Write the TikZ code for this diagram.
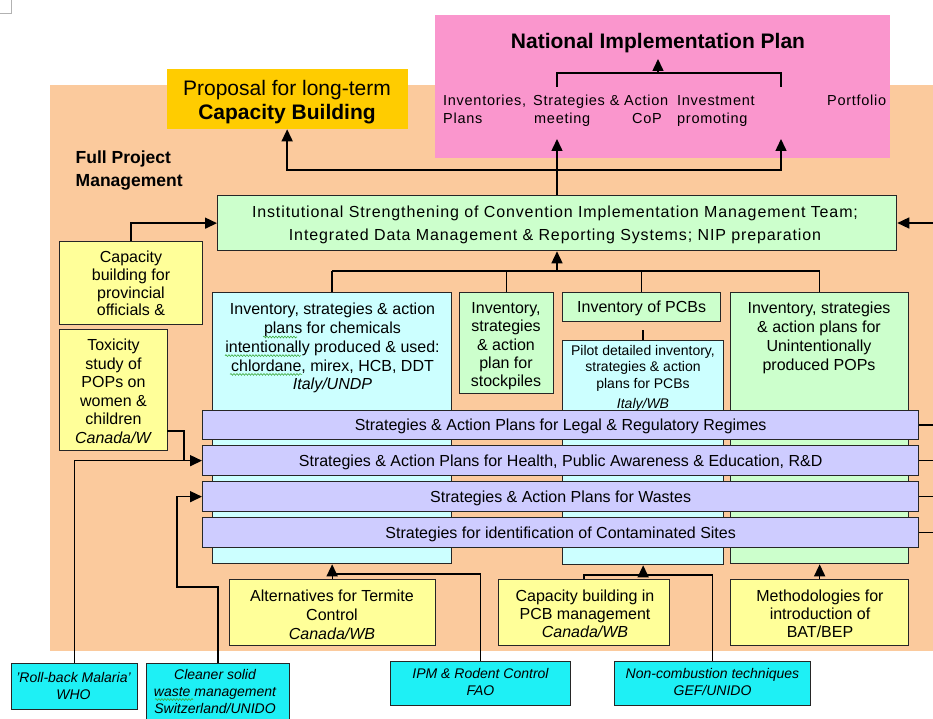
\documentclass[tikz,border=0pt]{standalone}
\usepackage{fontspec}
\setmainfont{Liberation Sans}
\newfontfamily\pinkf[LetterSpace=5]{Liberation Sans}
\newfontfamily\instf[LetterSpace=5.5]{Liberation Sans}
\usetikzlibrary{arrows.meta,decorations.pathmorphing,calc}
\definecolor{peach}{RGB}{251,202,157}
\definecolor{pinkbox}{RGB}{250,150,205}
\definecolor{gold}{RGB}{255,204,0}
\definecolor{ltgreen}{RGB}{204,255,204}
\definecolor{ltcyan}{RGB}{204,255,255}
\definecolor{ltyellow}{RGB}{255,255,153}
\definecolor{lav}{RGB}{206,204,255}
\definecolor{cyanbox}{RGB}{30,240,245}
\definecolor{squig}{RGB}{60,170,60}
\newcommand\fsz[2]{\fontsize{#1}{#2}\selectfont}
\begin{document}
\begin{tikzpicture}[x=1pt,y=-1pt,
 box/.style={draw=black!85, line width=1.3pt, inner sep=0pt, anchor=north west},
 bar/.style={box, fill=lav, minimum width=716, text height=11.5pt, text depth=0pt, font={\fsz{16}{18}}},
 txt/.style={inner sep=0pt, align=center, anchor=north, font={\fsz{16}{18.6}}},
 itxt/.style={inner sep=0pt, align=center, anchor=north, font={\fsz{14}{17.3}\itshape}},
 ptxt/.style={inner sep=0pt, font={\pinkf\fsz{14.5}{18}}},
 conn/.style={line width=1.5pt, draw=black},
 arr/.style={conn, -{Triangle[length=12pt,width=11pt]}},
 wavy/.style={draw=squig, line width=0.6pt, decorate, decoration={snake, amplitude=0.9pt, segment length=3pt}}
]
\useasboundingbox (0,0) rectangle (933,719);
\clip (0,0) rectangle (933,719);
\fill[white] (0,0) rectangle (933,719);
\draw[gray!60, line width=0.8pt] (0,13) -- (11,13) -- (11,0);

% background region
\fill[peach] (50,85) rectangle (933,651);

% National Implementation Plan
\node[box, draw=none, fill=pinkbox, minimum width=455, minimum height=143] (nip) at (434,14) {};
\node[inner sep=0pt, anchor=north, font={\fsz{21}{24}\bfseries}] (nipT) at (658,33.3) {National Implementation Plan};
\node[ptxt, anchor=base west] (p1) at (443,106) {Inventories,};
\node[ptxt, anchor=base west] (p2) at (443,124) {Plans};
\node[ptxt, anchor=base west] (p3) at (533,106) {Strategies \& Action};
\node[ptxt, anchor=base west] (p4) at (534,124) {meeting};
\node[ptxt, anchor=base east] (p5) at (662,124) {CoP};
\node[ptxt, anchor=base west] (p6) at (677,106) {Investment};
\node[ptxt, anchor=base west] (p7) at (677,124) {promoting};
\node[ptxt, anchor=base west] (p8) at (827,106) {Portfolio};
\coordinate (bl) at (557,87);
\coordinate (br) at (781,87);
\coordinate (bt) at (669,73);
\draw[conn] (bl) |- (bt) -| (br);
\draw[arr] (nipT.south |- bt) -- ++(0,-14);

% Proposal
\node[box, draw=none, fill=gold, minimum width=241, minimum height=60] (prop) at (166,68) {};
\node[txt, font={\fsz{21}{24}}] (propT) at (287,80) {Proposal for long-term\\\textbf{Capacity Building}};

\node[inner sep=0pt, anchor=north west, align=left, font={\fsz{17.5}{22.6}\bfseries}] (fpm) at (75.5,150.7) {Full Project\\Management};

% Institutional strengthening
\node[box, fill=ltgreen, minimum width=679, minimum height=55] (inst) at (217,195) {};
\node[txt, font={\instf\fsz{16}{23.4}}] (instT) at (555,205.7) {Institutional Strengthening of Convention Implementation Management Team;\\Integrated Data Management \& Reporting Systems; NIP preparation};

% left yellow boxes
\node[box, fill=ltyellow, minimum width=143, minimum height=83] (capb) at (59,241) {};
\node[txt, font={\fsz{16}{17.8}}] (capbT) at (131,250.7) {Capacity\\building for\\provincial\\officials \&};
\node[box, fill=ltyellow, minimum width=108, minimum height=121] (tox) at (59,329) {};
\node[txt, font={\fsz{16}{18.5}}] (toxT) at (113.5,339) {Toxicity\\study of\\POPs on\\women \&\\children\\\textit{Canada/W}};

% columns
\node[box, fill=ltcyan, minimum width=239, minimum height=271] (chem) at (212,292) {};
\node[txt, font={\fsz{16}{18.8}}] (chemT) at (332.5,303) {Inventory, strategies \& action\\plans for chemicals\\intentionally produced \& used:\\chlordane, mirex, HCB, DDT\\\textit{Italy/UNDP}};
\node[box, fill=ltgreen, minimum width=94, minimum height=101] (stock) at (459,292) {};
\node[txt, font={\fsz{16}{18.4}}] (stockT) at (506,302) {Inventory,\\strategies\\\& action\\plan for\\stockpiles};
\node[box, fill=ltgreen, minimum width=158, minimum height=29, text height=11.5pt, text depth=0pt, font={\fsz{16}{18}}] (invpcb) at (562,292) {Inventory of PCBs};
\node[box, fill=ltcyan, minimum width=161, minimum height=224] (pilot) at (562,340) {};
\node[txt, font={\fsz{14}{16.5}}] (pilotT) at (643,345) {Pilot detailed inventory,\\strategies \& action\\plans for PCBs\\[3.5pt]\textit{Italy/WB}};
\node[box, fill=ltgreen, minimum width=178, minimum height=271] (unint) at (730,292) {};
\node[txt, font={\fsz{16}{18.9}}] (unintT) at (819,302) {Inventory, strategies\\\& action plans for\\Unintentionally\\produced POPs};

% spell-check marks
\draw[wavy] (263,337) -- (297,337);
\draw[wavy] (225,355.6) -- (301,355.6);
\draw[wavy] (230,374.4) -- (302,374.4);

% strategy bars
\node[bar, minimum height=29] (legal) at (202,410) {Strategies \& Action Plans for Legal \& Regulatory Regimes};
\node[bar, minimum height=30] (health) at (202,445) {Strategies \& Action Plans for Health, Public Awareness \& Education, R\&D};
\node[bar, minimum height=30] (wastes) at (202,481) {Strategies \& Action Plans for Wastes};
\node[bar, minimum height=30] (sites) at (202,517) {Strategies for identification of Contaminated Sites};

% bottom yellow boxes
\node[box, fill=ltyellow, minimum width=206, minimum height=66] (term) at (229,579) {};
\node[txt, font={\fsz{16}{19}}] (termT) at (332,589.3) {Alternatives for Termite\\Control\\\textit{Canada/WB}};
\node[box, fill=ltyellow, minimum width=171, minimum height=66] (pcbcap) at (498,579) {};
\node[txt, font={\fsz{16}{18.4}}] (pcbcapT) at (585,589.3) {Capacity building in\\PCB management\\\textit{Canada/WB}};
\node[box, fill=ltyellow, minimum width=178, minimum height=66] (meth) at (730,579) {};
\node[txt, font={\fsz{16}{18.4}}] (methT) at (820,589.3) {Methodologies for\\introduction of\\BAT/BEP};

% cyan partner boxes
\node[box, fill=cyanbox, minimum width=126, minimum height=46] (mal) at (11,663) {};
\node[itxt] (malT) at (73.5,671.7) {'Roll-back Malaria'\\WHO};
\node[box, fill=cyanbox, minimum width=143, minimum height=70] (clean) at (146,663) {};
\node[itxt, font={\fsz{14}{17}\itshape}] (cleanT) at (215,669) {Cleaner solid\\waste management\\Switzerland/UNIDO};
\draw[wavy] (155,699.5) -- (193,699.5);
\node[box, fill=cyanbox, minimum width=180, minimum height=44] (ipm) at (390,661) {};
\node[itxt, font={\fsz{14}{16.7}\itshape}] (ipmT) at (480.5,668.3) {IPM \& Rodent Control\\FAO};
\node[box, fill=cyanbox, minimum width=196, minimum height=44] (noncomb) at (614,661) {};
\node[itxt, font={\fsz{14}{16.7}\itshape}] (noncombT) at (712.5,668.3) {Non-combustion techniques\\GEF/UNIDO};

% connectors: top
\coordinate (j1) at (557,170);
\draw[conn] (j1 |- inst.north) -- (j1);
\draw[arr] (j1) -| (prop.south);
\draw[arr] (j1) -- (557,139);
\draw[arr] (j1) -| (781,139);
\coordinate (rin) at (933,223);
\draw[arr] (rin) -- (rin -| inst.east);
\draw[arr] (capb.north) |- (inst.west);

% column bracket
\coordinate (cb) at (557,271);
\draw[conn] (chem.north |- cb) -- (unint.north |- cb);
\draw[conn] (chem.north) -- (chem.north |- cb);
\draw[conn] (stock.north) -- (stock.north |- cb);
\draw[conn] (invpcb.north) -- (invpcb.north |- cb);
\draw[conn] (unint.north) -- (unint.north |- cb);
\draw[arr] (cb) -- (cb |- inst.south);
\draw[conn] (pilot.north) -- ++(0,-10);

% left inputs
\coordinate (toxo) at (167,431);
\draw[conn] (toxo) -| ($(health.west)+(-18,0)$);
\draw[arr] (mal.north) |- (health.west);
\coordinate (c1) at (177,587);
\draw[arr] (clean.north) |- (c1) |- (wastes.west);

% bottom inputs
\coordinate (ij) at (480,574);
\draw[arr] (ipm.north) |- (chem.south |- ij) -- (chem.south);
\draw[conn] (term.north) -- (term.north |- ij);
\coordinate (nj) at (713,575);
\draw[arr] (noncomb.north) |- (pilot.south |- nj) -- (pilot.south);
\draw[conn] (pcbcap.north) |- (pilot.south |- nj);
\draw[arr] (meth.north) -- (unint.south);

% right edge lines to bars
\draw[conn] (legal.east) -- (legal.east -| rin);
\draw[conn] (health.east) -- (health.east -| rin);
\draw[conn] (wastes.east) -- (wastes.east -| rin);
\draw[conn] (sites.east) -- (sites.east -| rin);
\end{tikzpicture}
\end{document}
